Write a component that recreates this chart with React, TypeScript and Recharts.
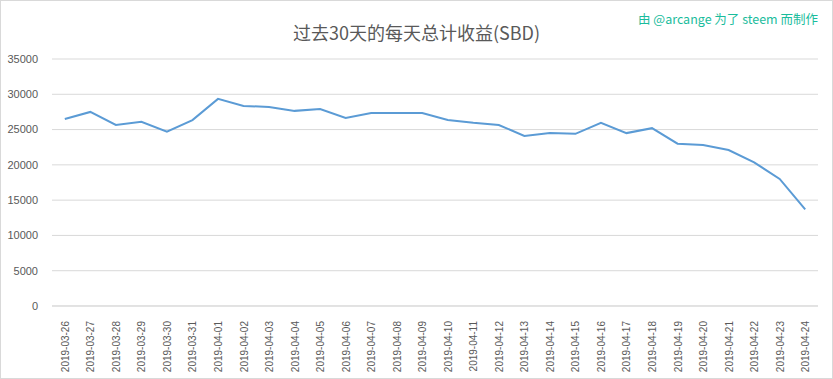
import { LineChart, Line, XAxis, YAxis, CartesianGrid } from 'recharts'

const dates = [
    '2019-03-26', '2019-03-27', '2019-03-28', '2019-03-29', '2019-03-30', '2019-03-31',
    '2019-04-01', '2019-04-02', '2019-04-03', '2019-04-04', '2019-04-05', '2019-04-06',
    '2019-04-07', '2019-04-08', '2019-04-09', '2019-04-10', '2019-04-11', '2019-04-12',
    '2019-04-13', '2019-04-14', '2019-04-15', '2019-04-16', '2019-04-17', '2019-04-18',
    '2019-04-19', '2019-04-20', '2019-04-21', '2019-04-22', '2019-04-23', '2019-04-24',
]

const earnings = [
    26500, 27500, 25650, 26100, 24700, 26350,
    29350, 28350, 28200, 27650, 27900, 26650,
    27350, 27350, 27350, 26350, 25950, 25650,
    24100, 24500, 24400, 25950, 24500, 25200,
    23000, 22800, 22100, 20350, 18000, 13700,
]

const yTicks = [0, 5000, 10000, 15000, 20000, 25000, 30000, 35000]

const title = '过去30天的每天总计收益(SBD)'
const credit = '由 @arcange 为了 steem 而制作'

const data = dates.map((d, i) => ({ date: d, value: earnings[i] }))

const DateTick = (props: any) => {
    const { x, y, payload } = props
    return (
        <text
            x={0} y={0}
            transform={`translate(${x + 4},${y + 7}) rotate(-90)`}
            textAnchor="end"
            fontSize={10}
            fontFamily="'Liberation Sans', sans-serif"
            fill="#595959">
            {payload.value}
        </text>
    )
}

const App = () => {
    return (
        <div style={{ position: 'relative', width: 831, height: 377, border: '1px solid #d9d9d9', background: '#fff' }}>
            <style>{'body{margin:0}'}</style>
            <div style={{
                position: 'absolute', left: 0, width: 831, top: 18, textAlign: 'center',
                fontFamily: "'Noto Sans CJK SC', sans-serif", fontSize: 18, color: '#595959', lineHeight: '26px',
            }}>{title}</div>
            <div style={{
                position: 'absolute', right: 14, top: 9, fontFamily: "'Noto Sans CJK SC', sans-serif",
                fontSize: 12.5, color: '#1abc9c', lineHeight: '18px', whiteSpace: 'pre',
            }}>{credit}</div>
            <LineChart width={831} height={377} data={data} margin={{ top: 58, right: 14, bottom: 0, left: 0 }}>
                <CartesianGrid vertical={false} stroke="#d9d9d9" />
                <XAxis
                    dataKey="date"
                    interval={0}
                    height={72}
                    padding={{ left: 12.8, right: 12.8 }}
                    tickLine={false}
                    axisLine={{ stroke: '#d9d9d9' }}
                    tick={<DateTick />} />
                <YAxis
                    width={51}
                    domain={[0, 35000]}
                    ticks={yTicks}
                    axisLine={false}
                    tickLine={false}
                    tickMargin={8}
                    tick={{ fontSize: 11, fill: '#595959', fontFamily: "'Liberation Sans', sans-serif" }} />
                <Line
                    type="linear"
                    dataKey="value"
                    stroke="#5b9bd5"
                    strokeWidth={2}
                    dot={false}
                    isAnimationActive={false} />
            </LineChart>
        </div>
    )
}

export default App
